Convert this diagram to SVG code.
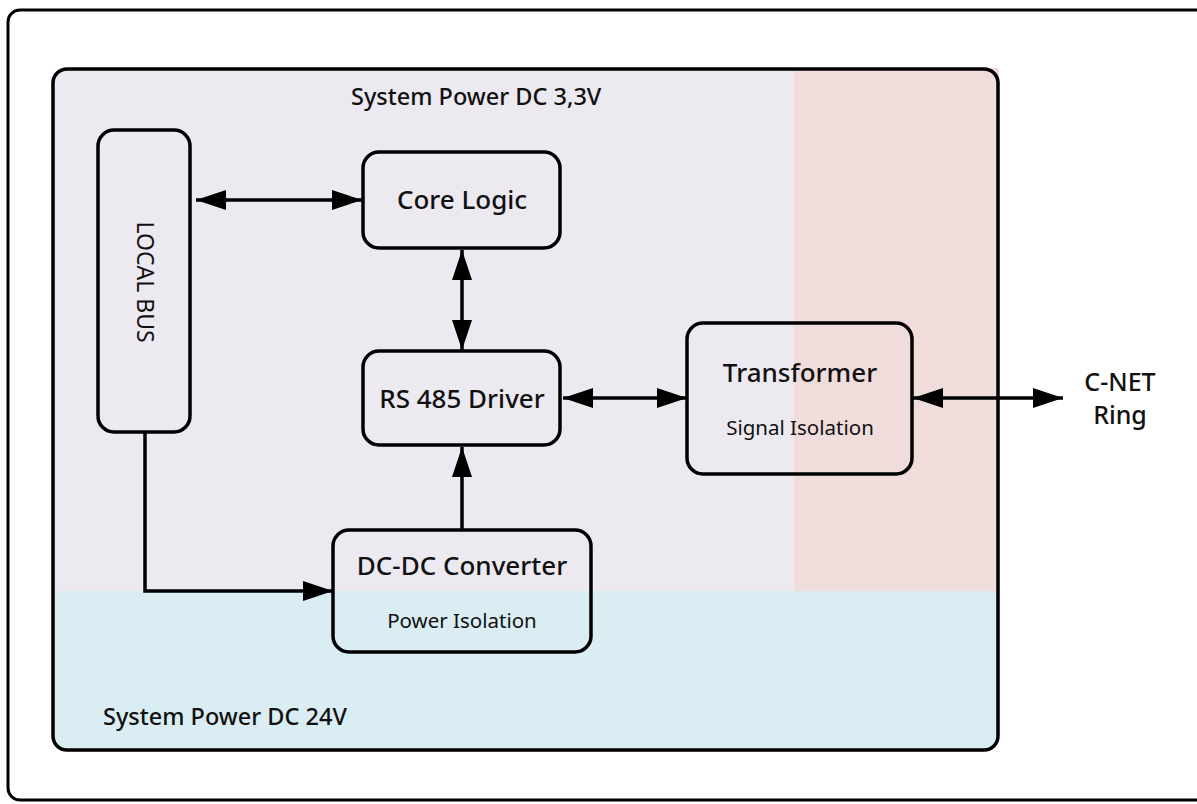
<svg xmlns="http://www.w3.org/2000/svg" width="1197" height="804" viewBox="0 0 1197 804">
<style>
.frame{fill:none;stroke:#000;stroke-width:3}
.box{fill:none;stroke:#000;stroke-width:3.5}
.t{font-family:"Noto Sans","Open Sans",sans-serif;fill:#111;text-anchor:middle}
.title{font-size:26px;font-weight:500}
.sub{font-size:20.5px;font-weight:400}
.zone{font-family:"Noto Sans","Open Sans",sans-serif;fill:#111;font-size:23.5px;font-weight:500}
.conn{fill:none;stroke:#000;stroke-width:3.5}
</style>
<defs>
<marker id="ah" viewBox="0 0 30 20" refX="30" refY="10" markerWidth="30" markerHeight="20" markerUnits="userSpaceOnUse" orient="auto-start-reverse">
<path d="M0,0 L30,10 L0,20 Z" fill="#000"/>
</marker>
<clipPath id="cc"><rect x="53" y="69" width="945" height="681" rx="14"/></clipPath>
</defs>
<rect class="frame" x="8" y="10" width="1200" height="790" rx="12"/>
<g id="container">
<g clip-path="url(#cc)">
<rect x="53" y="69" width="945" height="681" fill="#ECE9F1"/>
<rect x="53" y="591" width="945" height="159" fill="#DAEDF3"/>
</g>
<rect x="794" y="68" width="205" height="523" fill="#F0DCDB"/>
<rect x="53" y="69" width="945" height="681" rx="14" fill="none" stroke="#000" stroke-width="3.5"/>
<text class="zone" x="351" y="105">System Power DC 3,3V</text>
<text class="zone" x="103" y="725">System Power DC 24V</text>
</g>
<g id="localbus">
<rect class="box" x="98" y="130" width="92" height="302" rx="16"/>
<text class="t" transform="translate(145,282) rotate(90)" y="8" style="font-size:23px">LOCAL BUS</text>
</g>
<g id="corelogic">
<rect class="box" x="363" y="152" width="197" height="96" rx="16"/>
<text class="t title" x="462" y="209">Core Logic</text>
</g>
<g id="rs485">
<rect class="box" x="363" y="351" width="197" height="94" rx="16"/>
<text class="t title" x="462" y="408">RS 485 Driver</text>
</g>
<g id="transformer">
<rect class="box" x="687" y="323" width="225" height="151" rx="16"/>
<text class="t title" x="800" y="382">Transformer</text>
<text class="t sub" x="800" y="435">Signal Isolation</text>
</g>
<g id="dcdc">
<rect class="box" x="333" y="530" width="258" height="122" rx="16"/>
<text class="t title" x="462" y="575">DC-DC Converter</text>
<text class="t sub" x="462" y="628">Power Isolation</text>
</g>
<g id="cnet">
<text class="t title" x="1120" y="391" style="font-size:25px">C-NET</text>
<text class="t title" x="1120" y="424" style="font-size:25px">Ring</text>
</g>
<g id="connectors">
<line class="conn" x1="196" y1="200" x2="362" y2="200" marker-start="url(#ah)" marker-end="url(#ah)"/>
<line class="conn" x1="462" y1="250" x2="462" y2="350" marker-start="url(#ah)" marker-end="url(#ah)"/>
<line class="conn" x1="563" y1="398" x2="687" y2="398" marker-start="url(#ah)" marker-end="url(#ah)"/>
<line class="conn" x1="913" y1="398" x2="1063" y2="398" marker-start="url(#ah)" marker-end="url(#ah)"/>
<line class="conn" x1="462" y1="530" x2="462" y2="447" marker-end="url(#ah)"/>
<path class="conn" d="M145,432 V591 H333" marker-end="url(#ah)"/>
</g>
</svg>
